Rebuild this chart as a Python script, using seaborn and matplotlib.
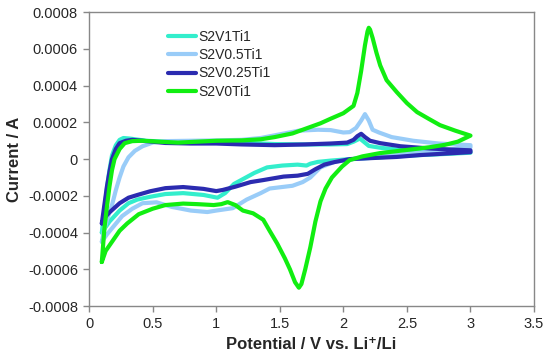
import numpy as np
import pandas as pd
import matplotlib
matplotlib.use("Agg")
import matplotlib.pyplot as plt
import seaborn as sns
from matplotlib.ticker import FuncFormatter, MultipleLocator

# Cyclic voltammograms: anodic sweep 0.1 -> 3.0 V, then back.
# Currents in units of 1e-4 A.

SAMPLES = ["S2V1Ti1", "S2V0.5Ti1", "S2V0.25Ti1", "S2V0Ti1"]
COLORS = ["#33EECC", "#99CCF8", "#2B2BB0", "#11EE11"]

v_s2v1 = [0.10, 0.12, 0.14, 0.16, 0.18, 0.21, 0.24, 0.27, 0.32, 0.45, 0.60, 0.80, 1.00,
          1.20, 1.46, 1.70, 1.90, 2.03, 2.08, 2.13, 2.16, 2.20, 2.29, 2.45, 2.68, 2.85, 3.00,
          3.00, 2.80, 2.60, 2.40, 2.20, 2.05, 1.90, 1.80, 1.74, 1.71, 1.64, 1.52, 1.40, 1.30,
          1.22, 1.14, 1.07, 1.01, 0.90, 0.74, 0.60, 0.48, 0.38, 0.31, 0.24, 0.16, 0.12, 0.10]
i_s2v1 = [-4.0, -2.8, -1.6, -0.6, 0.2, 0.75, 1.05, 1.15, 1.12, 1.0, 0.95, 0.98, 0.95,
          0.9, 0.82, 0.8, 0.8, 0.82, 0.95, 1.12, 0.95, 0.72, 0.62, 0.5, 0.45, 0.42, 0.4,
          0.35, 0.28, 0.22, 0.15, 0.06, 0.0, -0.08, -0.15, -0.25, -0.35, -0.3, -0.35, -0.45, -0.75,
          -1.05, -1.35, -1.85, -2.1, -1.95, -1.85, -1.9, -2.05, -2.2, -2.4, -2.8, -3.4, -3.8, -4.0]

v_s2v05 = [0.10, 0.12, 0.15, 0.18, 0.21, 0.24, 0.27, 0.31, 0.36, 0.42, 0.50, 0.60, 0.80,
           1.00, 1.20, 1.35, 1.50, 1.65, 1.80, 1.90, 2.00, 2.05, 2.10, 2.14, 2.17, 2.20, 2.23,
           2.28, 2.38, 2.55, 2.75, 3.00,
           3.00, 2.80, 2.60, 2.40, 2.20, 2.05, 1.93, 1.82, 1.74, 1.68, 1.60, 1.42, 1.35, 1.24,
           1.13, 1.00, 0.93, 0.80, 0.65, 0.53, 0.42, 0.34, 0.26, 0.20, 0.14, 0.10]
i_s2v05 = [-4.5, -3.8, -3.1, -2.5, -1.7, -1.0, -0.4, 0.1, 0.45, 0.7, 0.9, 0.98, 1.0,
           1.02, 1.05, 1.15, 1.35, 1.55, 1.6, 1.58, 1.45, 1.47, 1.7, 2.1, 2.45, 2.1, 1.6,
           1.45, 1.2, 1.0, 0.85, 0.76,
           0.65, 0.5, 0.35, 0.22, 0.08, -0.02, -0.15, -0.45, -1.0, -1.25, -1.45, -1.6, -1.85, -2.2,
           -2.67, -2.8, -2.88, -2.8, -2.6, -2.35, -2.4, -2.7, -3.1, -3.6, -4.1, -4.5]

v_s2v025 = [0.10, 0.12, 0.14, 0.16, 0.18, 0.21, 0.24, 0.29, 0.34, 0.45, 0.60, 0.80, 1.00,
            1.20, 1.46, 1.70, 1.90, 2.03, 2.08, 2.11, 2.14, 2.17, 2.21, 2.29, 2.45, 2.68, 2.85,
            3.00,
            3.00, 2.80, 2.60, 2.42, 2.20, 2.05, 1.93, 1.85, 1.78, 1.72, 1.64, 1.53, 1.37, 1.27,
            1.15, 1.05, 1.00, 0.90, 0.74, 0.60, 0.48, 0.38, 0.31, 0.24, 0.16, 0.12, 0.10]
i_s2v025 = [-3.5, -2.5, -1.5, -0.7, 0.0, 0.55, 0.87, 1.0, 1.05, 0.98, 0.88, 0.85, 0.85,
            0.8, 0.76, 0.8, 0.85, 0.9, 1.05, 1.25, 1.38, 1.2, 1.0, 0.87, 0.7, 0.58, 0.52,
            0.48,
            0.38, 0.3, 0.22, 0.12, 0.05, 0.0, -0.16, -0.3, -0.55, -0.8, -0.9, -0.95, -1.14, -1.25,
            -1.5, -1.68, -1.74, -1.62, -1.52, -1.58, -1.75, -1.95, -2.1, -2.4, -2.9, -3.2, -3.5]

v_s2v0 = [0.10, 0.12, 0.14, 0.16, 0.18, 0.20, 0.24, 0.28, 0.34, 0.42, 0.55, 0.70, 0.85,
          1.00, 1.20, 1.35, 1.46, 1.60, 1.72, 1.82, 1.90, 2.00, 2.05, 2.08, 2.11, 2.14, 2.17,
          2.19, 2.20, 2.21, 2.23, 2.26, 2.29, 2.34, 2.42, 2.50, 2.58, 2.67, 2.76, 2.88, 3.00,
          3.00, 2.90, 2.80, 2.68, 2.50, 2.29, 2.15, 2.05, 1.99, 1.91, 1.86, 1.82, 1.78, 1.74,
          1.70, 1.67, 1.65, 1.62, 1.58, 1.54, 1.48, 1.42, 1.37, 1.29, 1.21, 1.15, 1.09, 1.04,
          0.98, 0.85, 0.74, 0.60, 0.50, 0.39, 0.30, 0.24, 0.18, 0.13, 0.10]
i_s2v0 = [-5.6, -3.8, -2.6, -1.5, -0.6, 0.0, 0.55, 0.87, 0.98, 1.0, 0.95, 0.9, 0.95,
          1.0, 1.02, 1.08, 1.2, 1.4, 1.7, 1.95, 2.2, 2.5, 2.75, 2.9, 3.6, 4.8, 6.2,
          6.95, 7.15, 7.05, 6.6, 5.8, 5.1, 4.3, 3.65, 3.05, 2.56, 2.2, 1.85, 1.55, 1.28,
          1.28, 0.95, 0.78, 0.65, 0.5, 0.33, 0.15, -0.05, -0.4, -1.0, -1.6, -2.3, -3.4, -4.8,
          -6.0, -6.8, -7.0, -6.7, -6.0, -5.4, -4.6, -3.9, -3.3, -2.95, -2.8, -2.5, -2.34, -2.45,
          -2.5, -2.45, -2.42, -2.5, -2.7, -3.0, -3.5, -3.9, -4.5, -5.0, -5.6]

frames = []
for name, v, i in [("S2V1Ti1", v_s2v1, i_s2v1), ("S2V0.5Ti1", v_s2v05, i_s2v05),
                   ("S2V0.25Ti1", v_s2v025, i_s2v025), ("S2V0Ti1", v_s2v0, i_s2v0)]:
    frames.append(pd.DataFrame({"potential": v, "current": np.array(i) * 1e-4, "sample": name}))
df = pd.concat(frames, ignore_index=True)

sns.set_style("white")
plt.rcParams["font.family"] = ["Liberation Sans", "DejaVu Sans"]
plt.rcParams["lines.solid_joinstyle"] = "round"
plt.rcParams["lines.solid_capstyle"] = "round"

fig = plt.figure(figsize=(5.5, 3.58), dpi=100)
ax = fig.add_axes([0.162, 0.145, 0.809, 0.821])

sns.lineplot(data=df, x="potential", y="current", hue="sample", hue_order=SAMPLES,
             palette=COLORS, sort=False, estimator=None, linewidth=3, ax=ax)

ax.set_xlim(0, 3.5)
ax.set_ylim(-0.0008, 0.0008)
ax.xaxis.set_major_locator(MultipleLocator(0.5))
ax.yaxis.set_major_locator(MultipleLocator(0.0002))
ax.xaxis.set_major_formatter(FuncFormatter(lambda v, p: "0" if abs(v) < 1e-9 else f"{v:g}"))
ax.yaxis.set_major_formatter(FuncFormatter(lambda v, p: "0" if abs(v) < 1e-9 else f"{v:.4f}"))

for s in ax.spines.values():
    s.set_color("#888888")
    s.set_linewidth(1)
ax.tick_params(axis="both", which="major", direction="out", length=4, width=1,
               color="#888888", labelsize=10.5, pad=4, left=True, bottom=True)

ax.set_xlabel("Potential / V vs. Li\u207a/Li", fontsize=12, fontweight="bold")
ax.set_ylabel("Current / A", fontsize=12, fontweight="bold")

handles, labels = ax.get_legend_handles_labels()
ax.legend(handles, labels, loc="upper left", bbox_to_anchor=(0.178, 0.939), frameon=False,
          fontsize=10, handlelength=2.0, handletextpad=0.15, labelspacing=0.3,
          borderpad=0, borderaxespad=0)

fig.savefig("out.png", dpi=100)
